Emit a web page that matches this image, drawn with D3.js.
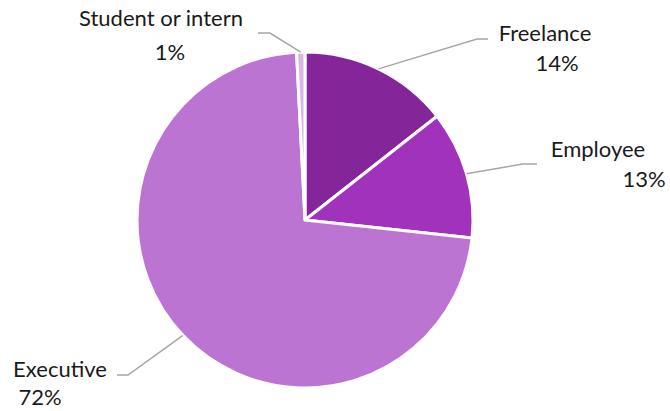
<!DOCTYPE html>
<html>
<head>
<meta charset="utf-8">
<script src="https://cdn.jsdelivr.net/npm/d3@7"></script>
<style>
  body { margin: 0; background: #fff; }
  text { font-family: Lato, "Open Sans", sans-serif; fill: #1a1a1a; }
</style>
</head>
<body>
<svg id="chart" width="670" height="411"></svg>
<script>
// slice data, clockwise from 12 o'clock
var categories = ["Freelance", "Employee", "Executive", "Student or intern"];
var shares = [14.4, 12.3, 72.5, 0.8];
var pctLabels = ["14%", "13%", "72%", "1%"];
var colors = ["#85259a", "#a032bb", "#bb74d1", "#dab6e4"];

// label layout: elbow of leader line, end of leader line, name centre, pct centre
var labelLayout = [
  { elbow: [477, 39], end: [488, 39], name: [545, 41], pct: [557, 71] },
  { elbow: [523, 164], end: [537, 164], name: [598, 157], pct: [644, 187] },
  { elbow: [128, 375], end: [117, 375], name: [60, 377], pct: [40, 405] },
  { elbow: [270, 33], end: [258, 33], name: [161, 26], pct: [170, 60] }
];

var svg = d3.select("#chart"),
    cx = 305, cy = 220, radius = 168;

var pie = d3.pie().sort(null).value(function (d) { return d; });
var arcs = pie(shares);

var arc = d3.arc().innerRadius(0).outerRadius(radius);

var g = svg.append("g").attr("transform", "translate(" + cx + "," + cy + ")");

g.selectAll("path")
  .data(arcs)
  .enter().append("path")
    .attr("d", arc)
    .attr("fill", function (d, i) { return colors[i]; })
    .attr("stroke", "#fff")
    .attr("stroke-width", 3)
    .attr("stroke-linejoin", "round");

// leader lines
svg.selectAll("polyline.leader")
  .data(arcs)
  .enter().append("polyline")
    .attr("class", "leader")
    .attr("fill", "none")
    .attr("stroke", "#a6a6a6")
    .attr("stroke-width", 1.5)
    .attr("points", function (d, i) {
      var a = (d.startAngle + d.endAngle) / 2;
      var sx = cx + radius * Math.sin(a), sy = cy - radius * Math.cos(a);
      var L = labelLayout[i];
      return [[sx, sy], L.elbow, L.end].map(function (p) { return p.join(","); }).join(" ");
    });

// labels
svg.selectAll("text.name")
  .data(categories)
  .enter().append("text")
    .attr("class", "name")
    .attr("text-anchor", "middle")
    .attr("font-size", 22)
    .attr("x", function (d, i) { return labelLayout[i].name[0]; })
    .attr("y", function (d, i) { return labelLayout[i].name[1]; })
    .text(function (d) { return d; });

svg.selectAll("text.pct")
  .data(pctLabels)
  .enter().append("text")
    .attr("class", "pct")
    .attr("text-anchor", "middle")
    .attr("font-size", 22)
    .attr("x", function (d, i) { return labelLayout[i].pct[0]; })
    .attr("y", function (d, i) { return labelLayout[i].pct[1]; })
    .text(function (d) { return d; });
</script>
</body>
</html>
